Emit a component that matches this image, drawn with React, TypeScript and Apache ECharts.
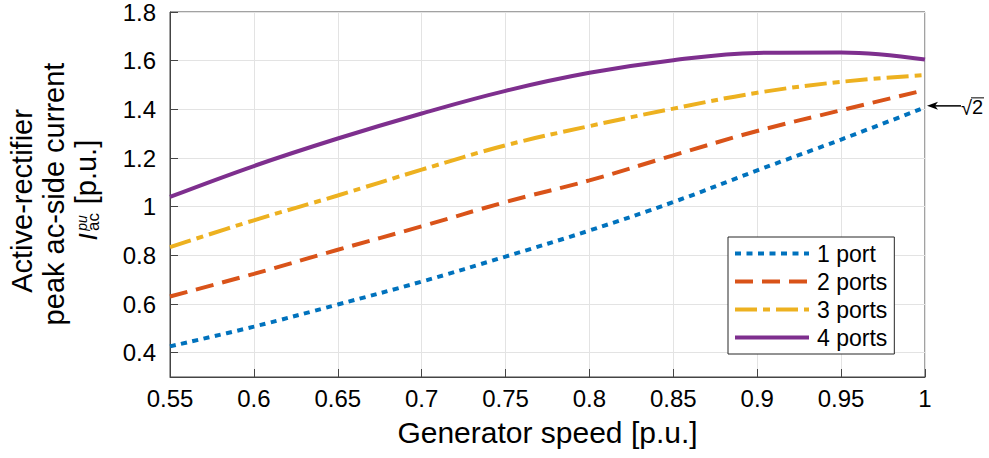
import React, { useEffect, useRef } from "react";
import * as echarts from "echarts";

const speed = [0.55, 0.6, 0.65, 0.7, 0.75, 0.8, 0.85, 0.9, 0.95, 1.0];
const port1 = [0.426, 0.507, 0.598, 0.692, 0.795, 0.902, 1.019, 1.149, 1.276, 1.408];
const port2 = [0.631, 0.724, 0.823, 0.919, 1.019, 1.108, 1.211, 1.311, 1.396, 1.479];
const port3 = [0.834, 0.944, 1.046, 1.152, 1.252, 1.331, 1.403, 1.468, 1.513, 1.541];
const port4 = [1.04, 1.167, 1.28, 1.383, 1.476, 1.55, 1.602, 1.632, 1.634, 1.605];
const seriesNames = ["1 port", "2 ports", "3 ports", "4 ports"];
const seriesColors = ["#0072BD", "#D95319", "#EDB120", "#7E2F8E"];
const seriesDash: number[][] = [[6, 5.5], [18, 9], [22, 6, 7, 6], []];
const xLabelTitle = "Generator speed [p.u.]";
const yTitleLine1 = "Active-rectifier";
const yTitleLine2 = "peak ac-side current";
const sqrt2Value = Math.SQRT2;

const FONT = "Liberation Sans, Arial, Helvetica, sans-serif";

export default function App() {
  const ref = useRef<HTMLDivElement>(null);
  useEffect(() => {
    if (!ref.current) return;
    const chart = echarts.init(ref.current, undefined, { renderer: "svg" });
    const allData = [port1, port2, port3, port4];
    const fmt = (v: number) => String(parseFloat(v.toFixed(2)));
    const option: any = {
      animation: false,
      backgroundColor: "#ffffff",
      grid: {
        left: 170,
        right: 64,
        top: 12,
        bottom: 81,
        show: true,
        borderColor: "#444444",
        borderWidth: 1,
        backgroundColor: "transparent",
      },
      xAxis: {
        type: "value",
        min: 0.55,
        max: 1,
        interval: 0.05,
        name: xLabelTitle,
        nameLocation: "middle",
        nameGap: 40,
        nameTextStyle: { fontSize: 30, fontFamily: FONT, color: "#000" },
        axisLine: { show: true, lineStyle: { color: "#444444", width: 1 } },
        axisTick: { show: true, inside: true, length: 8, lineStyle: { color: "#444444" } },
        axisLabel: { fontSize: 24, fontFamily: FONT, color: "#000", margin: 9, formatter: fmt },
        splitLine: { show: true, lineStyle: { color: "#e3e3e3", width: 1 } },
      },
      yAxis: {
        type: "value",
        min: 0.3,
        max: 1.8,
        splitNumber: 7,
        axisLine: { show: true, lineStyle: { color: "#444444", width: 1 } },
        axisTick: { show: true, inside: true, length: 8, lineStyle: { color: "#444444" } },
        axisLabel: {
          fontSize: 24,
          fontFamily: FONT,
          color: "#000",
          margin: 14,
          showMinLabel: false,
          formatter: fmt,
        },
        splitLine: { show: true, lineStyle: { color: "#e3e3e3", width: 1 } },
      },
      legend: {
        orient: "vertical",
        left: 728,
        top: 237,
        itemWidth: 74,
        itemHeight: 14,
        itemGap: 5,
        padding: [5, 7, 5, 5],
        backgroundColor: "#ffffff",
        borderColor: "#262626",
        borderWidth: 1,
        itemStyle: { opacity: 0 },
        lineStyle: { width: 4 },
        textStyle: { fontSize: 23, lineHeight: 22, fontFamily: FONT, color: "#000", padding: [0, 0, 0, 3] },
        data: seriesNames,
      },
      series: allData.map((d, i) => ({
        name: seriesNames[i],
        type: "line",
        data: speed.map((s, j) => [s, d[j]]),
        smooth: 0.4,
        symbol: "none",
        showSymbol: false,
        z: 10 - i,
        lineStyle: {
          color: seriesColors[i],
          width: 4,
          type: seriesDash[i].length ? seriesDash[i] : "solid",
          cap: "butt",
        },
        itemStyle: { color: seriesColors[i] },
      })),
    };
    chart.setOption(option);
    const p = chart.convertToPixel({ gridIndex: 0 }, [1, sqrt2Value]) as number[];
    const ax = p[0] + 2;
    const ay = p[1];
    chart.setOption({
      graphic: [
        {
          type: "text",
          x: 22,
          y: 201,
          rotation: Math.PI / 2,
          style: { text: yTitleLine1, font: `29px ${FONT}`, fill: "#000", align: "center", verticalAlign: "middle" },
        },
        {
          type: "text",
          x: 54,
          y: 194,
          rotation: Math.PI / 2,
          style: { text: yTitleLine2, font: `29px ${FONT}`, fill: "#000", align: "center", verticalAlign: "middle" },
        },
        {
          type: "text",
          x: 86,
          y: 172,
          rotation: Math.PI / 2,
          style: { text: "[p.u.]", font: `29px ${FONT}`, fill: "#000", align: "center", verticalAlign: "middle" },
        },
        {
          type: "text",
          x: 88,
          y: 237,
          rotation: Math.PI / 2,
          style: { text: "I", font: `italic 26px ${FONT}`, fill: "#000", align: "center", verticalAlign: "middle" },
        },
        {
          type: "text",
          x: 82,
          y: 223,
          rotation: Math.PI / 2,
          style: { text: "pu", font: `italic 14px ${FONT}`, fill: "#000", align: "center", verticalAlign: "middle" },
        },
        {
          type: "text",
          x: 93,
          y: 222,
          rotation: Math.PI / 2,
          style: { text: "ac", font: `17px ${FONT}`, fill: "#000", align: "center", verticalAlign: "middle" },
        },
        {
          type: "line",
          shape: { x1: ax + 8, y1: ay, x2: ax + 34, y2: ay },
          style: { stroke: "#000", lineWidth: 1.5 },
        },
        {
          type: "polygon",
          shape: { points: [[ax, ay], [ax + 11, ay - 4], [ax + 8, ay], [ax + 11, ay + 4]] },
          style: { fill: "#000" },
        },
        {
          type: "text",
          x: ax + 34,
          y: ay + 2,
          style: { text: "√", font: `20px ${FONT}`, fill: "#000", align: "left", verticalAlign: "middle" },
        },
        {
          type: "text",
          x: ax + 45,
          y: ay + 1,
          style: { text: "2", font: `20px ${FONT}`, fill: "#000", align: "left", verticalAlign: "middle" },
        },
        {
          type: "line",
          shape: { x1: ax + 44, y1: ay - 8, x2: ax + 57, y2: ay - 8 },
          style: { stroke: "#000", lineWidth: 1 },
        },
      ],
    });
    return () => chart.dispose();
  }, []);
  return <div ref={ref} style={{ position: "fixed", left: 0, top: 0, width: 989, height: 458 }} />;
}
